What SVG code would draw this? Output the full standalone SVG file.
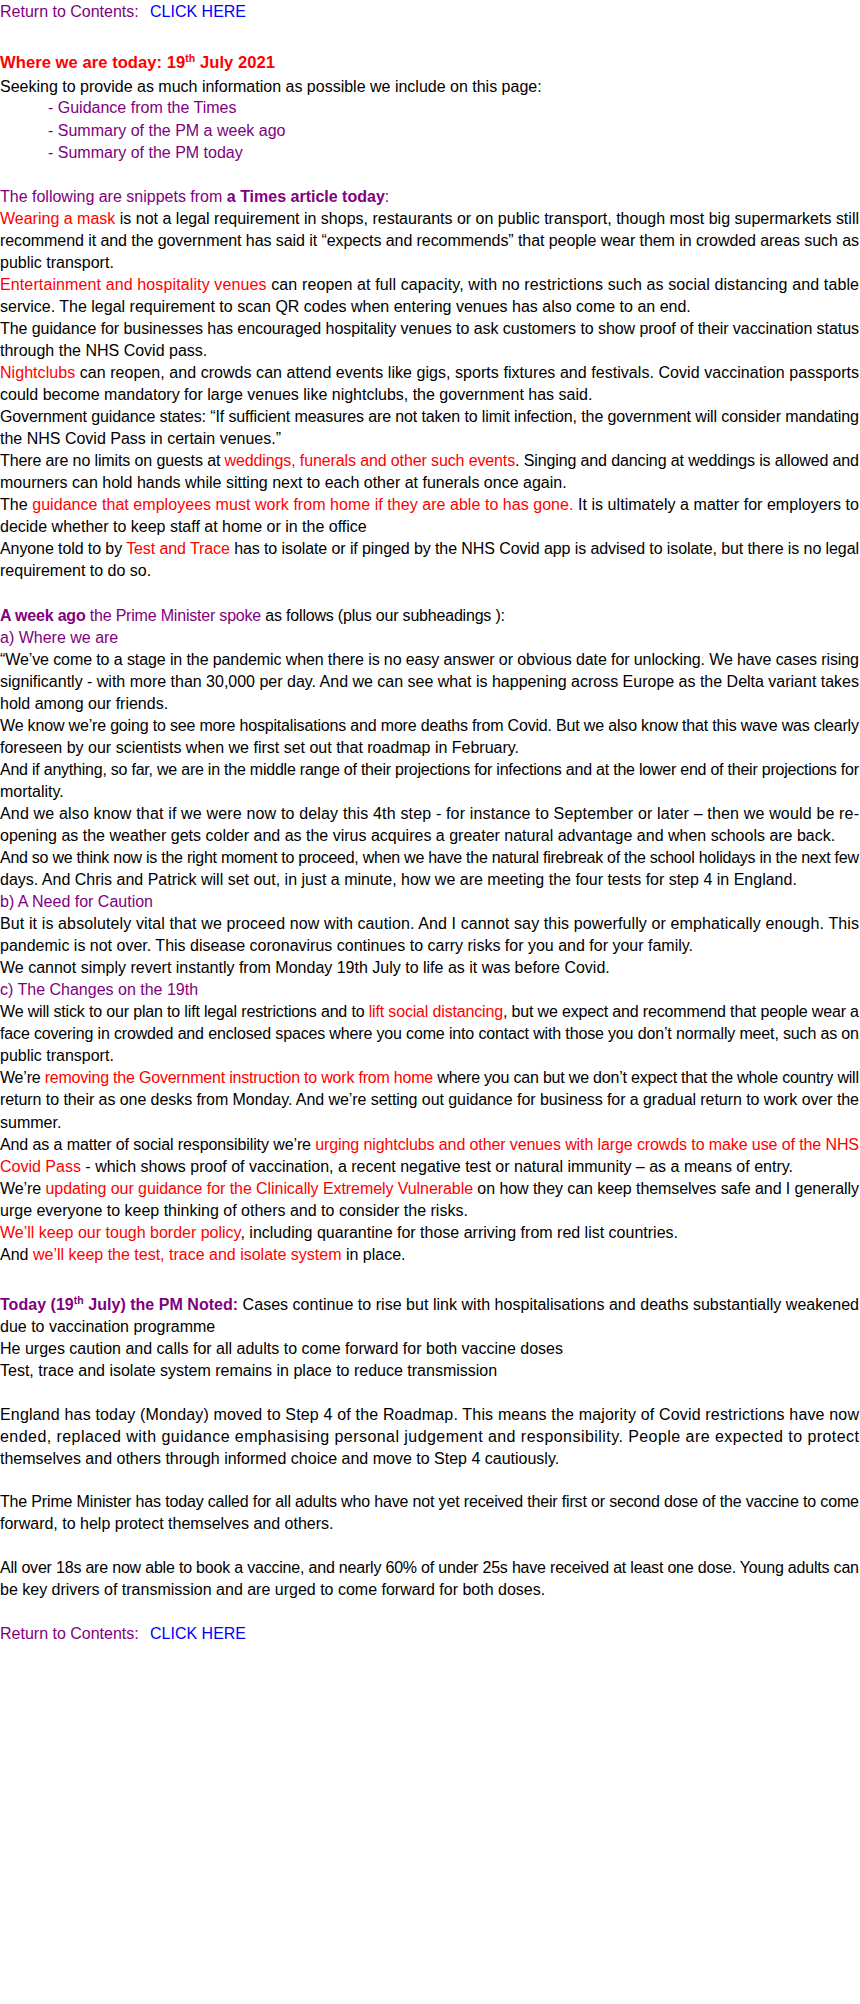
<svg xmlns="http://www.w3.org/2000/svg" width="860" height="2004" viewBox="0 0 860 2004">
<style>
text{font-family:"Liberation Sans",Arial,Helvetica,sans-serif;font-size:16px;fill:#000}
.p{fill:#800080}
.r{fill:#ff0000}
.b{fill:#0000ff}
.bd{font-weight:bold}
.sup{font-size:10.5px}
</style>
<rect x="0" y="0" width="860" height="2004" fill="#ffffff"/>
<g id="top-link">
<text x="0" y="17" class="p">Return to Contents:</text>
<text x="150" y="17" class="b">CLICK HERE</text>
</g>
<g id="intro">
<text x="0" y="68" class="r bd" style="font-size:16.6px" textLength="275">Where we are today: 19<tspan class="sup" dy="-6">th</tspan><tspan dy="6"> July 2021</tspan></text>
<text x="0" y="92">Seeking to provide as much information as possible we include on this page:</text>
<text x="48" y="113" class="p">- Guidance from the Times</text>
<text x="48" y="136" class="p">- Summary of the PM a week ago</text>
<text x="48" y="158" class="p">- Summary of the PM today</text>
</g>
<g id="times">
<text x="0" y="202" class="p">The following are snippets from <tspan class="bd">a Times article today</tspan>:</text>
<text x="0" y="224" textLength="859"><tspan class="r">Wearing a mask</tspan> is not a legal requirement in shops, restaurants or on public transport, though most big supermarkets still</text>
<text x="0" y="246" textLength="859">recommend it and the government has said it “expects and recommends” that people wear them in crowded areas such as</text>
<text x="0" y="268">public transport.</text>
<text x="0" y="290" textLength="859"><tspan class="r">Entertainment and hospitality venues</tspan> can reopen at full capacity, with no restrictions such as social distancing and table</text>
<text x="0" y="312">service. The legal requirement to scan QR codes when entering venues has also come to an end.</text>
<text x="0" y="334" textLength="859">The guidance for businesses has encouraged hospitality venues to ask customers to show proof of their vaccination status</text>
<text x="0" y="356">through the NHS Covid pass.</text>
<text x="0" y="378" textLength="859"><tspan class="r">Nightclubs</tspan> can reopen, and crowds can attend events like gigs, sports fixtures and festivals. Covid vaccination passports</text>
<text x="0" y="400">could become mandatory for large venues like nightclubs, the government has said.</text>
<text x="0" y="422" textLength="859">Government guidance states: “If sufficient measures are not taken to limit infection, the government will consider mandating</text>
<text x="0" y="444">the NHS Covid Pass in certain venues.”</text>
<text x="0" y="466" textLength="859">There are no limits on guests at <tspan class="r">weddings, funerals and other such events</tspan>. Singing and dancing at weddings is allowed and</text>
<text x="0" y="488">mourners can hold hands while sitting next to each other at funerals once again.</text>
<text x="0" y="510" textLength="859">The <tspan class="r">guidance that employees must work from home if they are able to has gone.</tspan> It is ultimately a matter for employers to</text>
<text x="0" y="532">decide whether to keep staff at home or in the office</text>
<text x="0" y="554" textLength="859">Anyone told to by <tspan class="r">Test and Trace</tspan> has to isolate or if pinged by the NHS Covid app is advised to isolate, but there is no legal</text>
<text x="0" y="576">requirement to do so.</text>
</g>
<g id="week-ago">
<text x="0" y="621" textLength="505"><tspan class="p bd">A week ago</tspan><tspan class="p"> the Prime Minister spoke</tspan> as follows (plus our subheadings ):</text>
<text x="0" y="643" class="p">a) Where we are</text>
<text x="0" y="665" textLength="859">“We’ve come to a stage in the pandemic when there is no easy answer or obvious date for unlocking. We have cases rising</text>
<text x="0" y="687" textLength="859">significantly - with more than 30,000 per day. And we can see what is happening across Europe as the Delta variant takes</text>
<text x="0" y="709">hold among our friends.</text>
<text x="0" y="731" textLength="859">We know we’re going to see more hospitalisations and more deaths from Covid. But we also know that this wave was clearly</text>
<text x="0" y="753">foreseen by our scientists when we first set out that roadmap in February.</text>
<text x="0" y="775" textLength="859">And if anything, so far, we are in the middle range of their projections for infections and at the lower end of their projections for</text>
<text x="0" y="797">mortality.</text>
<text x="0" y="819" textLength="859">And we also know that if we were now to delay this 4th step - for instance to September or later – then we would be re-</text>
<text x="0" y="841">opening as the weather gets colder and as the virus acquires a greater natural advantage and when schools are back.</text>
<text x="0" y="863" textLength="859">And so we think now is the right moment to proceed, when we have the natural firebreak of the school holidays in the next few</text>
<text x="0" y="885">days. And Chris and Patrick will set out, in just a minute, how we are meeting the four tests for step 4 in England.</text>
<text x="0" y="907" class="p">b) A Need for Caution</text>
<text x="0" y="929" textLength="859">But it is absolutely vital that we proceed now with caution. And I cannot say this powerfully or emphatically enough. This</text>
<text x="0" y="951">pandemic is not over. This disease coronavirus continues to carry risks for you and for your family.</text>
<text x="0" y="973">We cannot simply revert instantly from Monday 19th July to life as it was before Covid.</text>
<text x="0" y="995.1" class="p">c) The Changes on the 19th</text>
<text x="0" y="1017.2" textLength="859">We will stick to our plan to lift legal restrictions and to <tspan class="r">lift social distancing</tspan>, but we expect and recommend that people wear a</text>
<text x="0" y="1039.2" textLength="859">face covering in crowded and enclosed spaces where you come into contact with those you don’t normally meet, such as on</text>
<text x="0" y="1061.3">public transport.</text>
<text x="0" y="1083.4" textLength="859">We’re <tspan class="r">removing the Government instruction to work from home</tspan> where you can but we don’t expect that the whole country will</text>
<text x="0" y="1105.4" textLength="859">return to their as one desks from Monday. And we’re setting out guidance for business for a gradual return to work over the</text>
<text x="0" y="1127.5">summer.</text>
<text x="0" y="1149.5" textLength="859">And as a matter of social responsibility we’re <tspan class="r">urging nightclubs and other venues with large crowds to make use of the NHS</tspan></text>
<text x="0" y="1171.6"><tspan class="r">Covid Pass</tspan> - which shows proof of vaccination, a recent negative test or natural immunity – as a means of entry.</text>
<text x="0" y="1193.7" textLength="859">We’re <tspan class="r">updating our guidance for the Clinically Extremely Vulnerable</tspan> on how they can keep themselves safe and I generally</text>
<text x="0" y="1215.8">urge everyone to keep thinking of others and to consider the risks.</text>
<text x="0" y="1237.8"><tspan class="r">We’ll keep our tough border policy</tspan>, including quarantine for those arriving from red list countries.</text>
<text x="0" y="1259.9">And <tspan class="r">we’ll keep the test, trace and isolate system</tspan> in place.</text>
</g>
<g id="today">
<text x="0" y="1310" textLength="859"><tspan class="p bd">Today (19</tspan><tspan class="p bd sup" dy="-6">th</tspan><tspan class="p bd" dy="6"> July) the PM Noted:</tspan> Cases continue to rise but link with hospitalisations and deaths substantially weakened</text>
<text x="0" y="1332">due to vaccination programme</text>
<text x="0" y="1354">He urges caution and calls for all adults to come forward for both vaccine doses</text>
<text x="0" y="1376">Test, trace and isolate system remains in place to reduce transmission</text>
<text x="0" y="1420" textLength="859">England has today (Monday) moved to Step 4 of the Roadmap. This means the majority of Covid restrictions have now</text>
<text x="0" y="1442" textLength="859">ended, replaced with guidance emphasising personal judgement and responsibility. People are expected to protect</text>
<text x="0" y="1464">themselves and others through informed choice and move to Step 4 cautiously.</text>
<text x="0" y="1507" textLength="859">The Prime Minister has today called for all adults who have not yet received their first or second dose of the vaccine to come</text>
<text x="0" y="1529">forward, to help protect themselves and others.</text>
<text x="0" y="1573" textLength="859">All over 18s are now able to book a vaccine, and nearly 60% of under 25s have received at least one dose. Young adults can</text>
<text x="0" y="1595">be key drivers of transmission and are urged to come forward for both doses.</text>
</g>
<g id="bottom-link">
<text x="0" y="1639" class="p">Return to Contents:</text>
<text x="150" y="1639" class="b">CLICK HERE</text>
</g>
</svg>
